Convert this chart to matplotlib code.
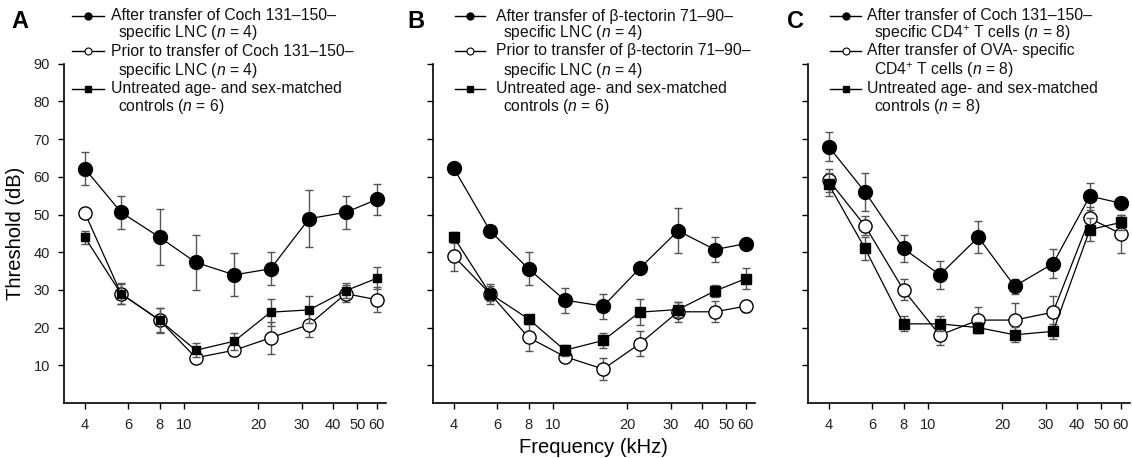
import matplotlib
matplotlib.use("Agg")
import matplotlib.pyplot as plt
from matplotlib.lines import Line2D
from matplotlib.ticker import FixedLocator, FixedFormatter, NullLocator

plt.rcParams['font.family'] = ['Liberation Sans', 'DejaVu Sans']
plt.rcParams['mathtext.fontset'] = 'custom'
plt.rcParams['mathtext.rm'] = 'Liberation Sans'
plt.rcParams['mathtext.it'] = 'Liberation Sans:italic'

# ---------------- data ----------------
freq = [4, 5.6, 8, 11.2, 16, 22.4, 32, 45, 60]
xticks = [4, 6, 8, 10, 20, 30, 40, 50, 60]
xticklabels = ['4', '6', '8', '10', '20', '30', '40', '50', '60']
yticks = [10, 20, 30, 40, 50, 60, 70, 80, 90]

a_filled = [62.2, 50.6, 44.0, 37.3, 34.0, 35.6, 48.9, 50.6, 54.0]
a_filled_err = [4.3, 4.4, 7.5, 7.2, 5.7, 4.4, 7.5, 4.3, 4.0]
a_open = [50.5, 29.0, 22.0, 12.0, 14.0, 17.3, 20.8, 29.0, 27.4]
a_open_err = [1.2, 2.6, 3.2, 1.2, 1.5, 4.3, 3.4, 2.2, 3.3]
a_square = [44.0, 29.0, 22.0, 14.0, 16.4, 24.1, 24.7, 29.8, 33.1]
a_square_err = [1.7, 2.8, 3.3, 1.8, 2.3, 3.6, 3.6, 2.0, 2.9]

b_filled = [62.3, 45.7, 35.6, 27.3, 25.7, 35.7, 45.7, 40.7, 42.3]
b_filled_err = [1.0, 1.0, 4.4, 3.3, 3.3, 1.0, 6.0, 3.4, 1.5]
b_open = [39.0, 29.0, 17.4, 12.3, 9.0, 15.7, 24.2, 24.2, 25.7]
b_open_err = [4.0, 2.6, 3.5, 1.5, 3.0, 3.3, 2.6, 2.8, 1.5]
b_square = [44.0, 29.0, 22.3, 14.0, 16.6, 24.1, 24.8, 29.7, 33.0]
b_square_err = [1.5, 2.0, 1.0, 1.5, 2.0, 3.5, 2.0, 1.5, 2.8]

c_filled = [68.0, 56.0, 41.0, 34.0, 44.0, 31.0, 37.0, 54.9, 53.0]
c_filled_err = [3.9, 5.1, 3.5, 3.7, 4.2, 2.0, 3.8, 3.6, 1.0]
c_open = [59.1, 47.0, 30.0, 18.0, 22.0, 22.0, 24.1, 49.0, 44.9]
c_open_err = [3.0, 2.5, 2.8, 2.5, 3.5, 4.5, 4.4, 3.0, 5.0]
c_square = [58.0, 41.0, 21.0, 21.0, 20.0, 18.1, 19.0, 46.0, 47.9]
c_square_err = [3.0, 3.0, 2.0, 2.0, 1.5, 2.0, 2.0, 3.0, 2.0]

legend_a = [("After transfer of Coch 131–150–", "specific LNC ($n$ = 4)"),
            ("Prior to transfer of Coch 131–150–", "specific LNC ($n$ = 4)"),
            ("Untreated age- and sex-matched", "controls ($n$ = 6)")]
legend_b = [("After transfer of β-tectorin 71–90–", "specific LNC ($n$ = 4)"),
            ("Prior to transfer of β-tectorin 71–90–", "specific LNC ($n$ = 4)"),
            ("Untreated age- and sex-matched", "controls ($n$ = 6)")]
legend_c = [("After transfer of Coch 131–150–", "specific CD4$^{+}$ T cells ($n$ = 8)"),
            ("After transfer of OVA- specific", "CD4$^{+}$ T cells ($n$ = 8)"),
            ("Untreated age- and sex-matched", "controls ($n$ = 8)")]

# ---------------- figure ----------------
W, H = 1132, 458
fig = plt.figure(figsize=(W / 100, H / 100), dpi=100)

def fx(x):
    return x / W

def fy(y):
    return 1 - y / H

ax_bottom_px, ax_top_px = 403, 63.8
ax_w_px = 321.5
panels = [
    dict(left=64, label='A', lab_x=11, sq=5.5, data=(a_filled, a_filled_err, a_open, a_open_err, a_square, a_square_err),
         legend=legend_a, leg_x0=72, leg_x1=104, txt_x=111),
    dict(left=433, label='B', lab_x=407, sq=6.5, data=(b_filled, b_filled_err, b_open, b_open_err, b_square, b_square_err),
         legend=legend_b, leg_x0=455, leg_x1=485, txt_x=496),
    dict(left=808, label='C', lab_x=787, sq=6.5, data=(c_filled, c_filled_err, c_open, c_open_err, c_square, c_square_err),
         legend=legend_c, leg_x0=830, leg_x1=861, txt_x=867),
]

ecol = '#555555'
leg_rows = [16, 51, 89]
leg_rows2 = [33, 70, 107]

for i, p in enumerate(panels):
    ax = fig.add_axes([fx(p['left']), fy(ax_bottom_px), fx(ax_w_px), (ax_bottom_px - ax_top_px) / H])
    filled, filled_err, opn, opn_err, sq, sq_err = p['data']
    ax.errorbar(freq, opn, yerr=opn_err, fmt='o', ms=9.5, mfc='white', mec='black', mew=1.0,
                ls='-', color='black', lw=0.9, ecolor=ecol, elinewidth=1.0, capsize=2.8, capthick=1.0, zorder=3)
    ax.errorbar(freq, sq, yerr=sq_err, fmt='s', ms=p['sq'], mfc='black', mec='black',
                ls='-', color='black', lw=0.9, ecolor=ecol, elinewidth=1.0, capsize=2.8, capthick=1.0, zorder=4)
    ax.errorbar(freq, filled, yerr=filled_err, fmt='o', ms=10, mfc='black', mec='black',
                ls='-', color='black', lw=0.9, ecolor=ecol, elinewidth=1.0, capsize=2.8, capthick=1.0, zorder=5)
    ax.set_xscale('log')
    ax.set_xlim(3.3, 65)
    ax.set_ylim(0, 90)
    ax.xaxis.set_major_locator(FixedLocator(xticks))
    ax.xaxis.set_major_formatter(FixedFormatter(xticklabels))
    ax.xaxis.set_minor_locator(NullLocator())
    ax.set_yticks(yticks)
    if i == 0:
        ax.set_yticklabels([str(v) for v in yticks])
        ax.set_ylabel('Threshold (dB)', fontsize=14.5, labelpad=6)
    else:
        ax.set_yticklabels([])
    if i == 1:
        ax.set_xlabel('Frequency (kHz)', fontsize=14.5, labelpad=4)
    for s in ('top', 'right'):
        ax.spines[s].set_visible(False)
    for s in ('left', 'bottom'):
        ax.spines[s].set_linewidth(1.2)
    ax.tick_params(axis='both', direction='out', length=4, width=1.0, labelsize=10.5, pad=6,
                   colors='black', labelcolor='#222222')
    ax.tick_params(axis='x', pad=7)

    # panel letter
    fig.text(fx(p['lab_x']), fy(22), p['label'], fontsize=17, fontweight='bold', va='center', ha='left')

    # legend
    styles = [dict(marker='o', ms=5, mfc='black', mec='black'),
              dict(marker='o', ms=5, mfc='white', mec='black', mew=0.8),
              dict(marker='s', ms=4, mfc='black', mec='black')]
    for (l1, l2), r1, r2, st in zip(p['legend'], leg_rows, leg_rows2, styles):
        ln = Line2D([fx(p['leg_x0']), fx(p['leg_x1'])], [fy(r1), fy(r1)], color='black', lw=1.0,
                    transform=fig.transFigure)
        fig.add_artist(ln)
        mk = Line2D([fx((p['leg_x0'] + p['leg_x1']) / 2)], [fy(r1)], ls='none', transform=fig.transFigure, **st)
        fig.add_artist(mk)
        fig.text(fx(p['txt_x']), fy(r1), l1, fontsize=11.3, va='center', ha='left', color='#111111')
        fig.text(fx(p['txt_x'] + 7), fy(r2), l2, fontsize=11.3, va='center', ha='left', color='#111111')

fig.savefig('out.png', dpi=100)
